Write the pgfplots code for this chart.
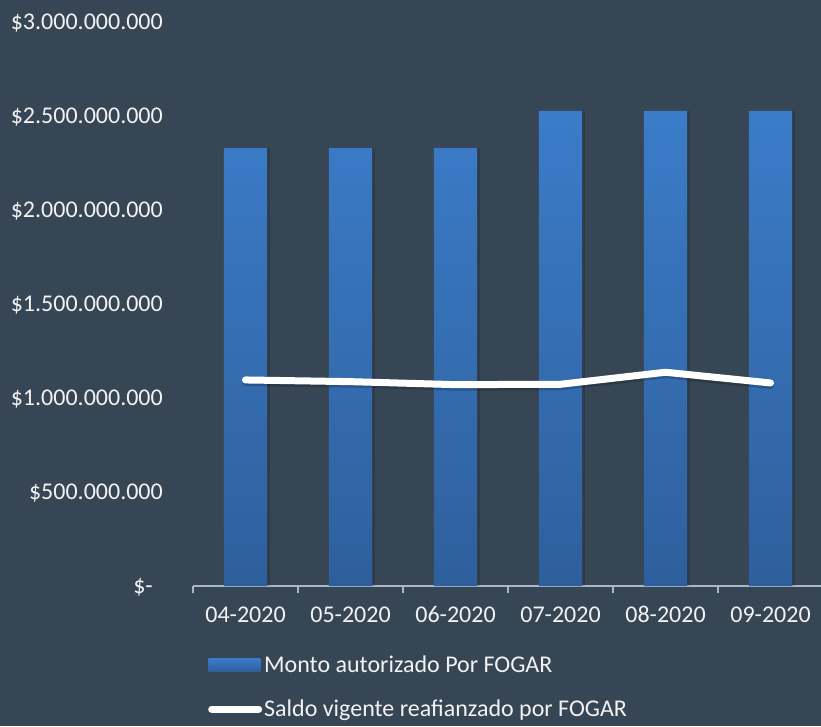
\documentclass[border=0pt]{standalone}
\usepackage{fontspec}
\setmainfont{Carlito}
\usepackage{pgfplots}
\pgfplotsset{compat=1.18}
\definecolor{bgcol}{HTML}{374654}
\definecolor{bartop}{HTML}{3B7CC8}
\definecolor{barbot}{HTML}{2E5F9C}
\definecolor{axcol}{HTML}{A9B7C6}
\definecolor{txtcol}{HTML}{F2F2F2}
\begin{document}
\begin{tikzpicture}[x=1pt,y=1pt]
\useasboundingbox (0,0) rectangle (821,726);
\fill[bgcol] (0,0) rectangle (821,726);
\begin{axis}[
  at={(193pt,140pt)}, anchor=south west,
  scale only axis, width=630pt, height=564pt,
  xmin=-0.5, xmax=5.5, ymin=0, ymax=3000000000,
  axis lines*=left,
  x axis line style={draw=axcol, line width=1.5pt, -},
  y axis line style={draw=none},
  xtick={-0.5,0.5,1.5,2.5,3.5,4.5,5.5},
  x tick label as interval=true,
  xticklabels={04-2020,05-2020,06-2020,07-2020,08-2020,09-2020},
  xtick style={draw=axcol, line width=1.5pt},
  tick align=outside, major tick length=7pt,
  ytick={0,500000000,1000000000,1500000000,2000000000,2500000000,3000000000},
  yticklabels={\$-\hspace*{10pt},\$500.000.000,\$1.000.000.000,\$1.500.000.000,\$2.000.000.000,\$2.500.000.000,\$3.000.000.000},
  scaled y ticks=false,
  ytick style={draw=none},
  tick label style={font=\fontsize{24}{29}\selectfont, text=txtcol},
  yticklabel style={anchor=east, inner sep=0pt, xshift=-23pt, yshift=-1pt},
  xticklabel style={inner sep=0pt, text height=17pt, text depth=0pt, yshift=-12pt},
  legend style={at={(0.019,-0.120)}, anchor=north west, draw=none, fill=none,
    font=\fontsize{24}{29}\selectfont, text=txtcol, row sep=26pt,
    nodes={inner xsep=2pt, inner ysep=0pt}},
  legend cell align=left,
  clip=false,
]
\addplot[ybar, bar width=0.41, bar shift=0.028, draw=none, fill=black, opacity=0.14, forget plot]
  coordinates {(0,2330000000) (1,2330000000) (2,2330000000) (3,2527000000) (4,2527000000) (5,2527000000)};
\addplot[ybar, bar width=0.41, draw=none, top color=bartop, bottom color=barbot,
  legend image code/.code={\fill[top color=bartop,bottom color=barbot] (0pt,-6.5pt) rectangle (52pt,6.5pt);}]
  coordinates {(0,2330000000) (1,2330000000) (2,2330000000) (3,2527000000) (4,2527000000) (5,2527000000)};
\addlegendentry{Monto autorizado Por FOGAR}
\addplot[black, opacity=0.2, line width=7pt, line join=round, line cap=round, forget plot, yshift=-2.5pt]
  coordinates {(0,1096000000) (1,1087000000) (2,1071000000) (3,1073000000) (4,1137000000) (5,1080000000)};
\addplot[white, line width=7pt, line join=round, line cap=round,
  legend image code/.code={\draw[white,line width=7pt,line cap=round] (3pt,0pt) -- (50pt,0pt);}]
  coordinates {(0,1096000000) (1,1087000000) (2,1071000000) (3,1073000000) (4,1137000000) (5,1080000000)};
\addlegendentry{Saldo vigente reafianzado por FOGAR}
\end{axis}
\end{tikzpicture}
\end{document}
